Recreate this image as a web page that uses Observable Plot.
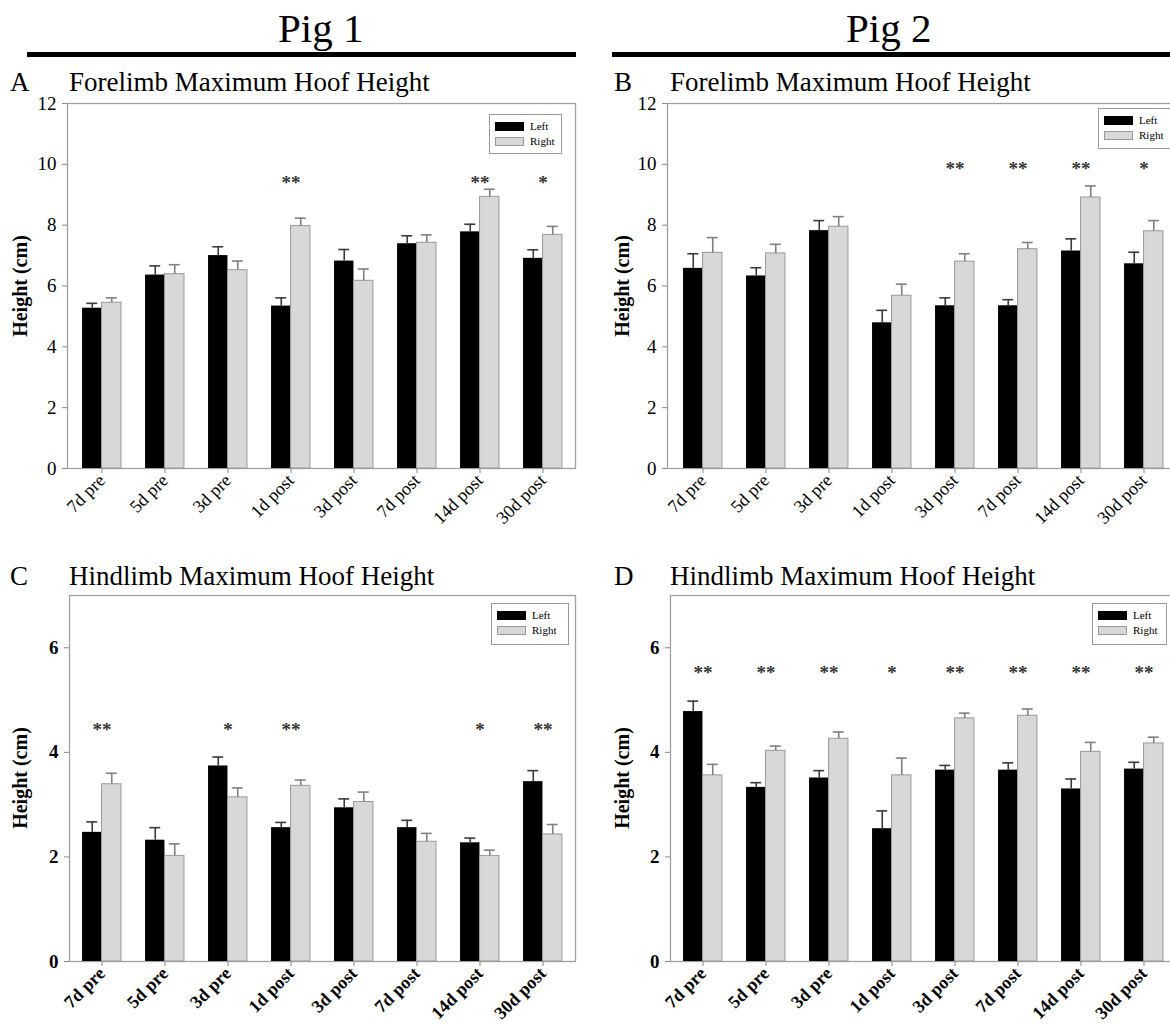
<!DOCTYPE html>
<html>
<head>
<meta charset="utf-8">
<script src="https://cdn.jsdelivr.net/npm/d3@7"></script>
<script src="https://cdn.jsdelivr.net/npm/@observablehq/plot@0.6"></script>
<style>
  html, body { margin: 0; padding: 0; background: #fff; overflow: hidden; }
  #page { position: relative; width: 1170px; height: 1024px; overflow: hidden; font-family: "Liberation Serif", "Times New Roman", serif; color: #000; }
  .abs { position: absolute; white-space: nowrap; }
  .pig { font-size: 41px; line-height: 1; }
  .rule { position: absolute; height: 5px; background: #000; }
  .letter { font-size: 27px; line-height: 1; }
  .ptitle { font-size: 27px; line-height: 1; }
  .ylab { font-size: 20px; font-weight: bold; transform: translate(-50%, -50%) rotate(-90deg); }
  .legend { position: absolute; border: 1px solid #999; background: #fff; box-sizing: border-box; }
  .sw { position: absolute; left: 5px; width: 29px; height: 9px; box-sizing: border-box; }
  .lt { position: absolute; left: 40px; font-size: 11px; line-height: 11px; }
  .panel { position: absolute; }
</style>
</head>
<body>
<div id="page"></div>
<script>
// ---------- data ----------
const categories = ["7d pre", "5d pre", "3d pre", "1d post", "3d post", "7d post", "14d post", "30d post"];

// Panel A: Pig 1 forelimb
const aLeft     = [5.27, 6.36, 7.00, 5.34, 6.82, 7.39, 7.78, 6.91];
const aLeftErr  = [0.16, 0.30, 0.29, 0.27, 0.38, 0.26, 0.25, 0.28];
const aRight    = [5.45, 6.39, 6.52, 7.97, 6.17, 7.42, 8.93, 7.68];
const aRightErr = [0.16, 0.31, 0.30, 0.26, 0.39, 0.26, 0.25, 0.28];
const aStars    = ["", "", "", "**", "", "", "**", "*"];

// Panel B: Pig 2 forelimb
const bLeft     = [6.58, 6.33, 7.82, 4.79, 5.35, 5.35, 7.15, 6.73];
const bLeftErr  = [0.48, 0.27, 0.33, 0.41, 0.26, 0.20, 0.40, 0.38];
const bRight    = [7.09, 7.07, 7.95, 5.68, 6.80, 7.21, 8.91, 7.80];
const bRightErr = [0.50, 0.30, 0.33, 0.38, 0.26, 0.22, 0.38, 0.35];
const bStars    = ["", "", "", "", "**", "**", "**", "*"];

// Panel C: Pig 1 hindlimb
const cLeft     = [2.47, 2.32, 3.74, 2.56, 2.94, 2.56, 2.27, 3.44];
const cLeftErr  = [0.20, 0.24, 0.17, 0.10, 0.17, 0.14, 0.09, 0.21];
const cRight    = [3.39, 2.02, 3.14, 3.36, 3.05, 2.29, 2.02, 2.43];
const cRightErr = [0.21, 0.23, 0.18, 0.11, 0.19, 0.16, 0.11, 0.19];
const cStars    = ["**", "", "*", "**", "", "", "*", "**"];

// Panel D: Pig 2 hindlimb
const dLeft     = [4.78, 3.33, 3.51, 2.54, 3.66, 3.66, 3.30, 3.68];
const dLeftErr  = [0.20, 0.09, 0.14, 0.34, 0.09, 0.14, 0.19, 0.13];
const dRight    = [3.56, 4.03, 4.26, 3.56, 4.65, 4.70, 4.01, 4.17];
const dRightErr = [0.21, 0.09, 0.13, 0.33, 0.10, 0.13, 0.18, 0.12];
const dStars    = ["**", "**", "**", "*", "**", "**", "**", "**"];

const yTicksFore = [0, 2, 4, 6, 8, 10, 12];
const yTicksHind = [0, 2, 4, 6];
const seriesNames = ["Left", "Right"];
const colLeft = "#000000";
const colRight = "#d8d8d8";

// ---------- layout helpers ----------
const page = document.getElementById("page");
function addText(cls, txt, left, top, extraStyle) {
  const d = document.createElement("div");
  d.className = "abs " + cls;
  d.textContent = txt;
  d.style.left = left + "px";
  d.style.top = top + "px";
  if (extraStyle) Object.assign(d.style, extraStyle);
  page.appendChild(d);
  return d;
}
function addRule(left, top, width) {
  const d = document.createElement("div");
  d.className = "rule";
  d.style.left = left + "px"; d.style.top = top + "px"; d.style.width = width + "px";
  page.appendChild(d);
}
function addLegend(left, top, width, height) {
  const box = document.createElement("div");
  box.className = "legend";
  Object.assign(box.style, {left: left + "px", top: top + "px", width: width + "px", height: height + "px"});
  seriesNames.forEach((name, i) => {
    const sw = document.createElement("div");
    sw.className = "sw";
    sw.style.top = (7 + i * 15) + "px";
    sw.style.background = i === 0 ? colLeft : colRight;
    sw.style.border = i === 0 ? "1px solid #000" : "1px solid #999";
    box.appendChild(sw);
    const t = document.createElement("div");
    t.className = "lt";
    t.style.top = (6 + i * 15) + "px";
    t.textContent = name;
    box.appendChild(t);
  });
  page.appendChild(box);
}

function panel(cfg) {
  const rows = (vals, errs, side) => categories.map((c, i) => ({cat: c, side, value: vals[i], top: vals[i] + errs[i]}));
  const L = rows(cfg.L, cfg.Le, "Left");
  const R = rows(cfg.R, cfg.Re, "Right");
  const stars = categories.map((c, i) => ({cat: c, s: cfg.stars[i]})).filter(d => d.s);
  const bw = (cfg.xRange[1] - cfg.xRange[0]) / categories.length;
  const half = bw / 2;
  const barW = 19.5;
  const cap = 11;
  const weight = cfg.bold ? "bold" : "normal";
  const chart = Plot.plot({
    width: cfg.width,
    height: cfg.height,
    marginLeft: cfg.marginLeft,
    marginRight: cfg.marginRight,
    marginTop: cfg.marginTop,
    marginBottom: cfg.marginBottom,
    style: {fontFamily: "'Liberation Serif', 'Times New Roman', serif", fontWeight: weight, background: "transparent", overflow: "visible", color: "#000"},
    x: {type: "band", domain: categories, range: cfg.xRange, padding: 0},
    y: {domain: cfg.yDomain},
    marks: [
      Plot.frame({stroke: "#a0a0a0", strokeWidth: 1.3}),
      Plot.barY(L, {x: "cat", y: "value", fill: colLeft, insetLeft: half - barW, insetRight: half}),
      Plot.barY(R, {x: "cat", y: "value", fill: colRight, stroke: "#999", strokeWidth: 1, insetLeft: half, insetRight: half - barW}),
      Plot.ruleX(L, {x: "cat", y1: "value", y2: "top", dx: -barW / 2, stroke: "#3a3a3a", strokeWidth: 1.6}),
      Plot.tickY(L, {x: "cat", y: "top", dx: -barW / 2, insetLeft: half - cap / 2, insetRight: half - cap / 2, stroke: "#3a3a3a", strokeWidth: 1.6}),
      Plot.ruleX(R, {x: "cat", y1: "value", y2: "top", dx: barW / 2, stroke: "#808080", strokeWidth: 1.6}),
      Plot.tickY(R, {x: "cat", y: "top", dx: barW / 2, insetLeft: half - cap / 2, insetRight: half - cap / 2, stroke: "#808080", strokeWidth: 1.6}),
      Plot.text(stars, {x: "cat", y: () => cfg.starY, text: "s", fontSize: 19, fontWeight: "bold", fill: "#333", dy: 5}),
      Plot.axisY({ticks: cfg.yTicks, tickFormat: d => String(d), tickSize: 5, tickPadding: 6, label: null, stroke: "#888", fill: "#000", fontSize: 19}),
      Plot.axisX({tickSize: 5, tickPadding: 4, tickRotate: -45, label: null, stroke: "#888", fill: "#000", fontSize: 18})
    ]
  });
  // enlarge axis tick labels (serif, as in the original)
  chart.querySelectorAll("g[aria-label]").forEach(g => {
    const lab = g.getAttribute("aria-label");
    if (lab.includes("y-axis") && lab.includes("label")) g.querySelectorAll("text").forEach(t => t.style.fontSize = "19px");
    if (lab.includes("x-axis") && lab.includes("label")) g.querySelectorAll("text").forEach(t => t.style.fontSize = "18px");
  });
  chart.classList.add("panel");
  chart.style.left = cfg.left + "px";
  chart.style.top = cfg.top + "px";
  page.appendChild(chart);
}

// ---------- headings ----------
addText("pig", "Pig 1", 278, 8);
addRule(27, 52, 549);
addText("pig", "Pig 2", 846, 8);
addRule(612, 52, 560);

addText("letter", "A", 10, 69);
addText("ptitle", "Forelimb Maximum Hoof Height", 69, 69);
addText("letter", "B", 614, 69);
addText("ptitle", "Forelimb Maximum Hoof Height", 670, 69);
addText("letter", "C", 10, 563);
addText("ptitle", "Hindlimb Maximum Hoof Height", 69, 563);
addText("letter", "D", 614, 563);
addText("ptitle", "Hindlimb Maximum Hoof Height", 670, 563);

// ---------- panels ----------
panel({left: 0, top: 95, width: 585, height: 453, marginLeft: 67, marginRight: 10, marginTop: 8, marginBottom: 80,
  xRange: [69.5, 574.3], yDomain: [0, 12], yTicks: yTicksFore,
  L: aLeft, Le: aLeftErr, R: aRight, Re: aRightErr, stars: aStars, starY: 9.57, bold: false});
panel({left: 585, top: 95, width: 600, height: 453, marginLeft: 82, marginRight: 8, marginTop: 8, marginBottom: 80,
  xRange: [85.5, 590.3], yDomain: [0, 12], yTicks: yTicksFore,
  L: bLeft, Le: bLeftErr, R: bRight, Re: bRightErr, stars: bStars, starY: 10.03, bold: false});
panel({left: 0, top: 585, width: 585, height: 456, marginLeft: 69, marginRight: 10, marginTop: 10, marginBottom: 80,
  xRange: [69.5, 574.3], yDomain: [0, 7], yTicks: yTicksHind,
  L: cLeft, Le: cLeftErr, R: cRight, Re: cRightErr, stars: cStars, starY: 4.52, bold: true});
panel({left: 585, top: 585, width: 600, height: 456, marginLeft: 85, marginRight: 8, marginTop: 10, marginBottom: 80,
  xRange: [85.5, 590.3], yDomain: [0, 7], yTicks: yTicksHind,
  L: dLeft, Le: dLeftErr, R: dRight, Re: dRightErr, stars: dStars, starY: 5.61, bold: true});

// ---------- y-axis titles and legends ----------
addText("ylab", "Height (cm)", 20, 286);
addText("ylab", "Height (cm)", 622, 286);
addText("ylab", "Height (cm)", 20, 778);
addText("ylab", "Height (cm)", 622, 778);

addLegend(489, 114, 73, 40);
addLegend(1098, 108, 80, 41);
addLegend(491, 603, 78, 42);
addLegend(1092, 603, 75, 42);
</script>
</body>
</html>
